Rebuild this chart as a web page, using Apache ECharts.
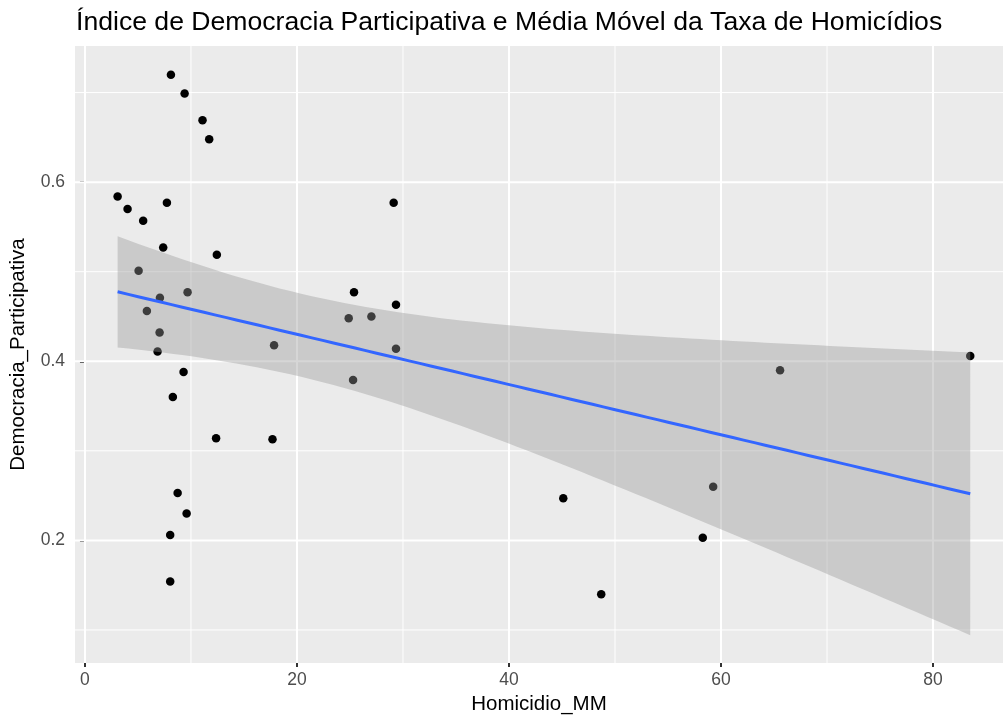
<!DOCTYPE html>
<html>
<head>
<meta charset="utf-8">
<script src="https://cdn.jsdelivr.net/npm/echarts@6/dist/echarts.min.js"></script>
<style>
  html, body { margin: 0; padding: 0; background: #ffffff; }
  #chart { width: 1003px; height: 720px; }
</style>
</head>
<body>
<div id="chart"></div>
<script>
// Moving average of the homicide rate vs. participatory democracy index
const homicidio = [
  8.11, 9.40, 11.09, 11.72, 3.08, 29.12, 7.73, 4.02, 5.49, 7.38,
  12.44, 5.06, 25.38, 29.34, 27.02, 24.88, 9.68, 7.07, 5.84, 7.04,
  17.84, 29.34, 6.85, 83.51, 65.57, 25.29, 9.30, 8.29, 12.37, 17.69,
  59.26, 8.74, 45.12, 9.59, 8.04, 58.28, 8.04, 48.70
];
const democracia = [
  0.720, 0.699, 0.669, 0.648, 0.584, 0.577, 0.577, 0.570, 0.557, 0.527,
  0.519, 0.501, 0.477, 0.463, 0.450, 0.448, 0.477, 0.471, 0.456, 0.432,
  0.418, 0.414, 0.411, 0.406, 0.390, 0.379, 0.388, 0.360, 0.314, 0.313,
  0.260, 0.253, 0.247, 0.230, 0.206, 0.203, 0.154, 0.140
];

const xTicks = [0, 20, 40, 60, 80];
const xMinor = [10, 30, 50, 70];
const yTicks = [0.2, 0.4, 0.6];
const yMinor = [0.1, 0.3, 0.5, 0.7];

const X_MIN = -0.94, X_MAX = 86.6;
const Y_MIN = 0.063, Y_MAX = 0.752;

// Ordinary least squares fit with a 95% confidence band (as geom_smooth(method = "lm"))
function linearFit(xs, ys, steps) {
  const n = xs.length;
  const xbar = xs.reduce((a, b) => a + b, 0) / n;
  const ybar = ys.reduce((a, b) => a + b, 0) / n;
  let sxx = 0, sxy = 0;
  for (let i = 0; i < n; i++) {
    sxx += (xs[i] - xbar) * (xs[i] - xbar);
    sxy += (xs[i] - xbar) * (ys[i] - ybar);
  }
  const slope = sxy / sxx;
  const icpt = ybar - slope * xbar;
  let sse = 0;
  for (let i = 0; i < n; i++) {
    const r = ys[i] - (icpt + slope * xs[i]);
    sse += r * r;
  }
  const s = Math.sqrt(sse / (n - 2));
  const tq = 2.028; // t(0.975, df = 36)
  const lo = Math.min(...xs), hi = Math.max(...xs);
  const fit = [], band = [];
  for (let k = 0; k < steps; k++) {
    const x = lo + (hi - lo) * k / (steps - 1);
    const yhat = icpt + slope * x;
    const se = s * Math.sqrt(1 / n + (x - xbar) * (x - xbar) / sxx);
    fit.push([x, yhat]);
    band.push([x, yhat - tq * se, yhat + tq * se]);
  }
  return { fit, band };
}

const model = linearFit(homicidio, democracia, 80);
const points = homicidio.map((x, i) => [x, democracia[i]]);

// grid lines: [position, isHorizontal, isMajor]
const gridLines = []
  .concat(xMinor.map(v => [v, 0, 0]))
  .concat(yMinor.map(v => [v, 1, 0]))
  .concat(xTicks.map(v => [v, 0, 1]))
  .concat(yTicks.map(v => [v, 1, 1]));

const chart = echarts.init(document.getElementById('chart'), null, { renderer: 'canvas' });
const FONT = '"Liberation Sans", Arial, Helvetica, sans-serif';

chart.setOption({
  animation: false,
  backgroundColor: '#ffffff',
  title: {
    text: 'Índice de Democracia Participativa e Média Móvel da Taxa de Homicídios',
    left: 71,
    top: 4,
    textStyle: { fontFamily: FONT, fontSize: 26.6, fontWeight: 'normal', color: '#000000' }
  },
  grid: {
    left: 74, top: 46, right: 0, bottom: 54,
    show: true, backgroundColor: '#EBEBEB', borderWidth: 0
  },
  xAxis: {
    type: 'value', min: X_MIN, max: X_MAX,
    name: 'Homicidio_MM', nameLocation: 'middle', nameGap: 30,
    nameTextStyle: { fontFamily: FONT, fontSize: 20.5, color: '#000000' },
    axisLine: { show: false },
    splitLine: { show: false },
    axisTick: { show: true, customValues: xTicks, length: 4, lineStyle: { color: '#333333', width: 2 } },
    axisLabel: { customValues: xTicks, margin: 8, fontFamily: FONT, fontSize: 17.5, color: '#4D4D4D' }
  },
  yAxis: {
    type: 'value', min: Y_MIN, max: Y_MAX,
    name: 'Democracia_Participativa', nameLocation: 'middle', nameGap: 46,
    nameTextStyle: { fontFamily: FONT, fontSize: 20.5, color: '#000000' },
    axisLine: { show: false },
    splitLine: { show: false },
    axisTick: { show: true, customValues: yTicks, length: 5, lineStyle: { color: '#333333', width: 2 } },
    axisLabel: { customValues: yTicks, margin: 10, fontFamily: FONT, fontSize: 17.5, color: '#4D4D4D',
      formatter: v => v.toFixed(1) }
  },
  series: [
    {
      type: 'custom', name: 'grid', z: 1, silent: true,
      data: gridLines,
      encode: { x: 0, y: 1 },
      renderItem: function (params, api) {
        const v = api.value(0), horiz = api.value(1), major = api.value(2);
        const cs = params.coordSys;
        let shape;
        if (horiz) {
          const p = api.coord([X_MIN, v]);
          shape = { x1: cs.x, y1: p[1], x2: cs.x + cs.width, y2: p[1] };
        } else {
          const p = api.coord([v, Y_MIN]);
          shape = { x1: p[0], y1: cs.y, x2: p[0], y2: cs.y + cs.height };
        }
        return { type: 'line', shape: shape, style: { stroke: '#ffffff', lineWidth: major ? 2 : 1 } };
      }
    },
    {
      type: 'scatter', name: 'pontos', z: 2,
      data: points,
      symbol: 'circle', symbolSize: 8.5,
      itemStyle: { color: '#000000', opacity: 1 }
    },
    {
      type: 'custom', name: 'IC 95%', z: 3, silent: true,
      data: model.band,
      encode: { x: 0, y: [1, 2] },
      renderItem: function (params, api) {
        if (params.dataIndex !== 0) return null;
        const upper = model.band.map(b => api.coord([b[0], b[2]]));
        const lower = model.band.map(b => api.coord([b[0], b[1]])).reverse();
        return {
          type: 'polygon',
          shape: { points: upper.concat(lower) },
          style: { fill: 'rgba(153,153,153,0.4)', stroke: null }
        };
      }
    },
    {
      type: 'line', name: 'ajuste', z: 4,
      data: model.fit,
      showSymbol: false, symbol: 'none',
      lineStyle: { color: '#3366FF', width: 3 }
    }
  ]
});
</script>
</body>
</html>
